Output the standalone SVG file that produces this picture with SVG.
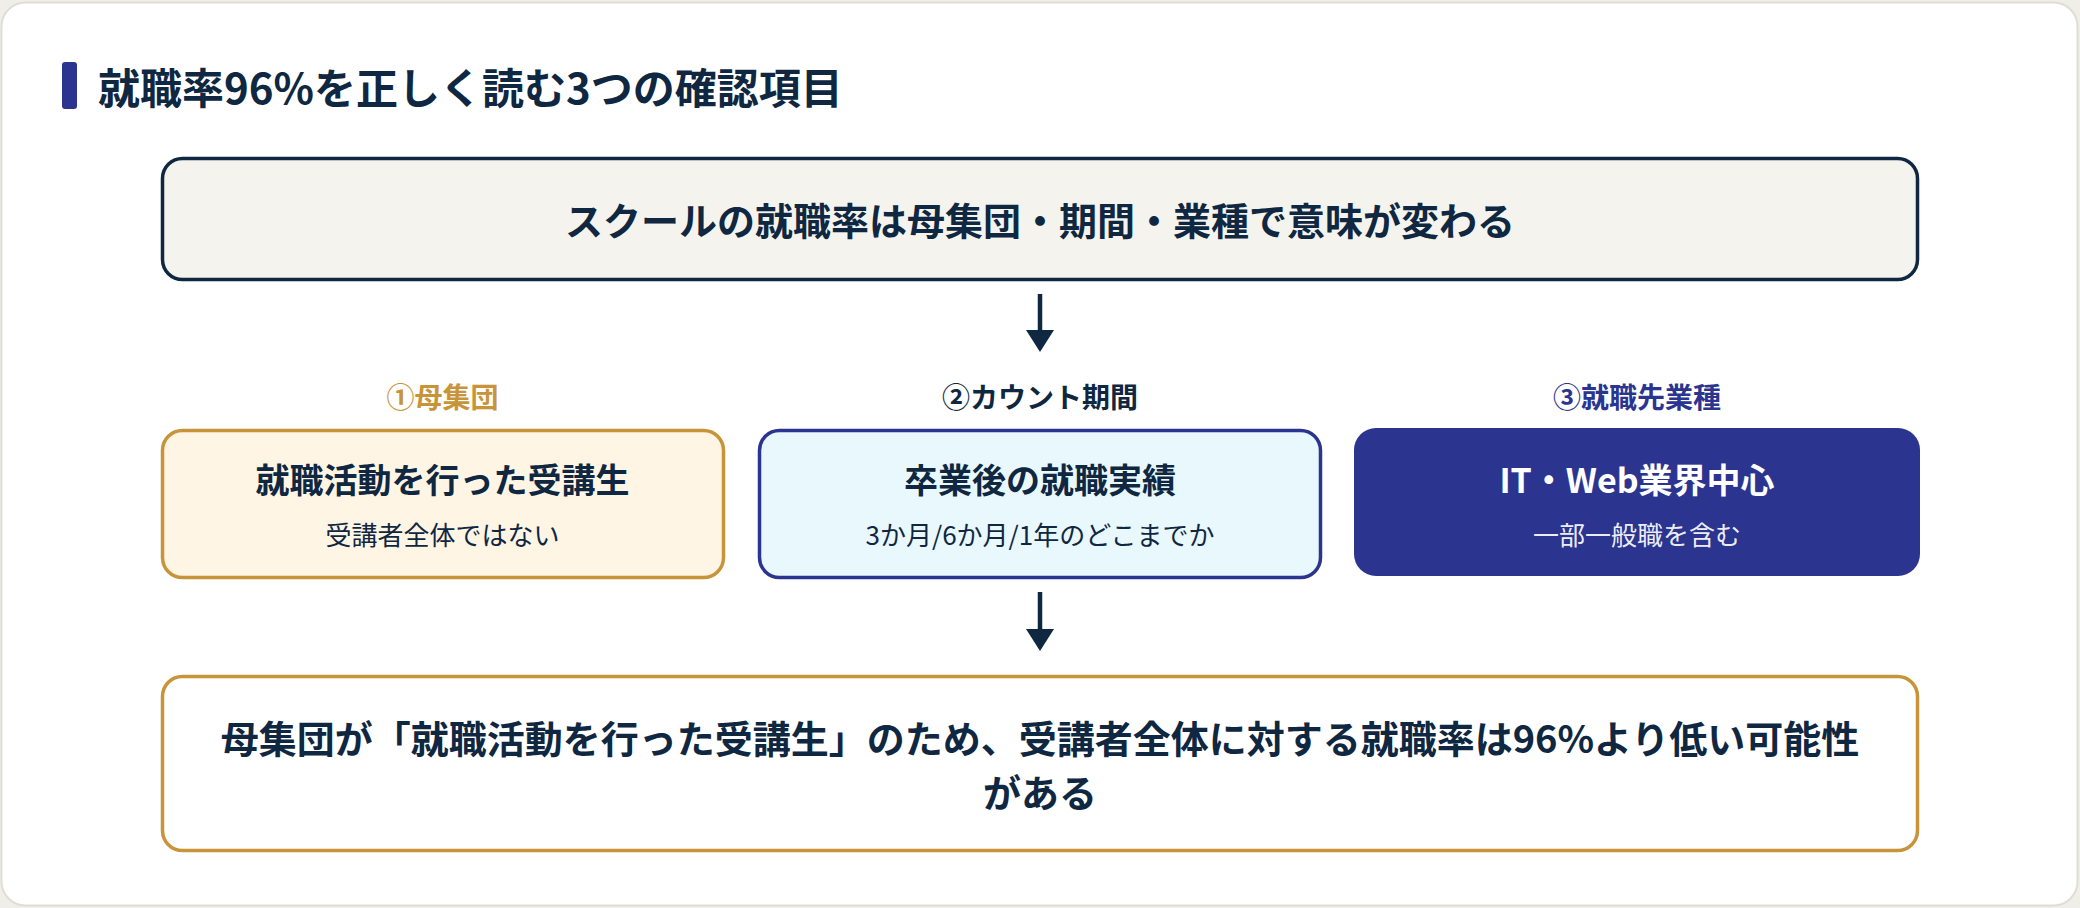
<svg xmlns="http://www.w3.org/2000/svg" width="2080" height="908" viewBox="0 0 2080 908">
  <style>
    text { font-family: "Noto Sans CJK JP", "Noto Sans", sans-serif; }
    .b { font-weight: 700; }
    .r { font-weight: 400; }
    .ink { fill: #0f2741; }
    .mid { text-anchor: middle; }
    .box { stroke-width: 3.5; }
  </style>
  <defs>
    <marker id="ah" markerWidth="22" markerHeight="28" refX="0" refY="14" viewBox="0 0 22 28" markerUnits="userSpaceOnUse" orient="auto">
      <path d="M0,0 L22,14 L0,28 Z" fill="#0f2741"/>
    </marker>
  </defs>

  <rect x="0" y="0" width="2080" height="908" fill="#efeee9"/>
  <rect id="card" x="1.5" y="2.5" width="2076" height="903" rx="24" fill="#ffffff" stroke="#e0ded4" stroke-width="2"/>

  <g id="title">
    <rect x="62" y="62" width="15" height="47" rx="3" fill="#2b3590"/>
    <text x="98" y="104" class="b ink" font-size="42">就職率96%を正しく読む3つの確認項目</text>
  </g>

  <g id="node-top">
    <rect x="162.5" y="158.5" width="1755" height="121" rx="20" fill="#f5f3ee" stroke="#0f2741" class="box"/>
    <text x="1040" y="235" class="b ink mid" font-size="38">スクールの就職率は母集団・期間・業種で意味が変わる</text>
  </g>

  <g id="node-population">
    <text x="442.5" y="408" class="b mid" font-size="28" fill="#c8943a">①母集団</text>
    <rect x="162.5" y="430.5" width="561" height="147" rx="20" fill="#fff5e5" stroke="#c8943a" class="box"/>
    <text x="442.5" y="493" class="b ink mid" font-size="34">就職活動を行った受講生</text>
    <text x="442.5" y="545" class="r ink mid" font-size="26">受講者全体ではない</text>
  </g>

  <g id="node-period">
    <text x="1040" y="408" class="b ink mid" font-size="28">②カウント期間</text>
    <rect x="759.5" y="430.5" width="561" height="147" rx="20" fill="#e9f8fd" stroke="#2b3590" class="box"/>
    <text x="1040" y="493" class="b ink mid" font-size="34">卒業後の就職実績</text>
    <text x="1040" y="545" class="r ink mid" font-size="26">3か月/6か月/1年のどこまでか</text>
  </g>

  <g id="node-industry">
    <text x="1637" y="408" class="b mid" font-size="28" fill="#2b3590">③就職先業種</text>
    <rect x="1354" y="428" width="566" height="148" rx="22" fill="#2b3590"/>
    <text x="1637" y="493" class="b mid" font-size="34" fill="#ffffff">IT・Web業界中心</text>
    <text x="1637" y="545" class="r mid" font-size="26" fill="#ffffff" fill-opacity="0.93">一部一般職を含む</text>
  </g>

  <g id="node-conclusion">
    <rect x="162.5" y="676.5" width="1755" height="174" rx="20" fill="#ffffff" stroke="#c8943a" class="box"/>
    <text x="1040" y="753" class="b ink mid" font-size="38">母集団が「就職活動を行った受講生」のため、受講者全体に対する就職率は96%より低い可能性</text>
    <text x="1040" y="807" class="b ink mid" font-size="38">がある</text>
  </g>

  <g id="connectors" stroke="#0f2741" stroke-width="4.5" fill="none">
    <line x1="1040" y1="294" x2="1040" y2="330" marker-end="url(#ah)"/>
    <line x1="1040" y1="592" x2="1040" y2="629" marker-end="url(#ah)"/>
  </g>
</svg>
